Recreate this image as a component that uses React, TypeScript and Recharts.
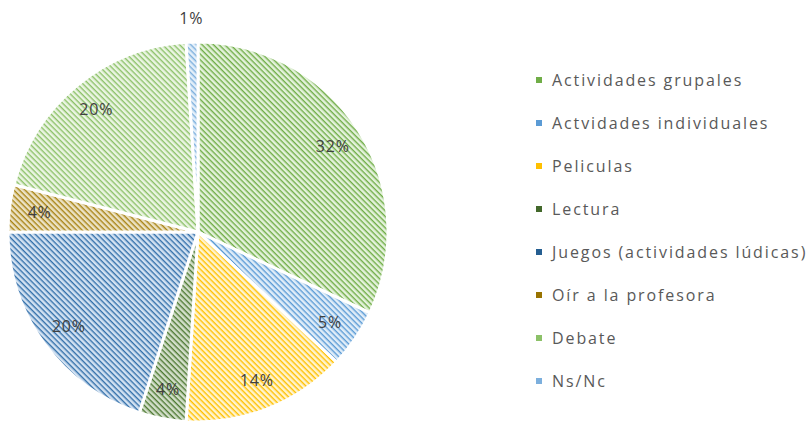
import { PieChart, Pie, Cell, Legend } from 'recharts'

const categories = [
  'Actividades grupales',
  'Actvidades individuales',
  'Peliculas',
  'Lectura',
  'Juegos (actividades lúdicas)',
  'Oír a la profesora',
  'Debate',
  'Ns/Nc',
]
const values = [32, 5, 14, 4, 20, 4, 20, 1]
const colors = ['#70AD47', '#5B9BD5', '#FFC000', '#43682B', '#255E91', '#997300', '#8CC168', '#7CAFDD']
const stripes = ['#70AD47', '#5B9BD5', '#FFC000', '#4E7A33', '#3370AA', '#A88314', '#8CC168', '#7CAFDD']
const tints = ['#e4f2db', '#e0edf8', '#fff4cf', '#d3dfca', '#d3e2f2', '#ece2c4', '#ebf5e3', '#e4eff9']

const data = categories.map((name, i) => ({ name, value: values[i] }))

const font = '"Open Sans", sans-serif'

const RADIAN = Math.PI / 180

function renderLabel(props: any) {
  const { cx, cy, midAngle, outerRadius, percent } = props
  const r = percent < 0.02 ? outerRadius + 24 : outerRadius * 0.84
  const x = cx + r * Math.cos(-midAngle * RADIAN)
  const y = cy + r * Math.sin(-midAngle * RADIAN)
  return (
    <text x={x} y={y} textAnchor="middle" dominantBaseline="central" fill="#404040" fontSize={16} letterSpacing={0.8} fontFamily={font}>
      {Math.round(percent * 100)}%
    </text>
  )
}

function LegendList() {
  return (
    <div style={{ fontFamily: font, fontSize: 16, color: '#595959' }}>
      {categories.map((c, i) => (
        <div key={c} style={{ display: 'flex', alignItems: 'center', height: 43, whiteSpace: 'nowrap' }}>
          <span style={{ width: 6, height: 6, background: colors[i], marginRight: 10, display: 'inline-block' }} />
          <span style={{ letterSpacing: 1.9 }}>{c}</span>
        </div>
      ))}
    </div>
  )
}

export default function App() {
  return (
    <div style={{ position: 'absolute', left: 0, top: 0, width: 807, height: 421, background: '#fff', overflow: 'hidden' }}>
      <svg width={0} height={0} style={{ position: 'absolute' }}>
        <defs>
          {colors.map((c, i) => (
            <pattern key={c} id={`hatch-${i}`} width={4} height={4} patternUnits="userSpaceOnUse" patternTransform="rotate(45)">
              <rect width={4} height={4} fill={tints[i]} />
              <rect width={4} height={1.4} fill={stripes[i]} />
            </pattern>
          ))}
        </defs>
      </svg>
      <PieChart width={807} height={421} margin={{ top: 0, right: 0, bottom: 0, left: 0 }}>
        <Pie
          data={data}
          dataKey="value"
          nameKey="name"
          cx={198}
          cy={232}
          outerRadius={190}
          startAngle={90}
          endAngle={-270}
          stroke="#fff"
          strokeWidth={3}
          label={renderLabel}
          labelLine={false}
          isAnimationActive={false}
        >
          {data.map((d, i) => (
            <Cell key={d.name} fill={`url(#hatch-${i})`} />
          ))}
        </Pie>
        <Legend
          layout="vertical"
          align="right"
          verticalAlign="top"
          wrapperStyle={{ left: 536, top: 58, width: 280 }}
          content={() => <LegendList />}
        />
      </PieChart>
    </div>
  )
}
